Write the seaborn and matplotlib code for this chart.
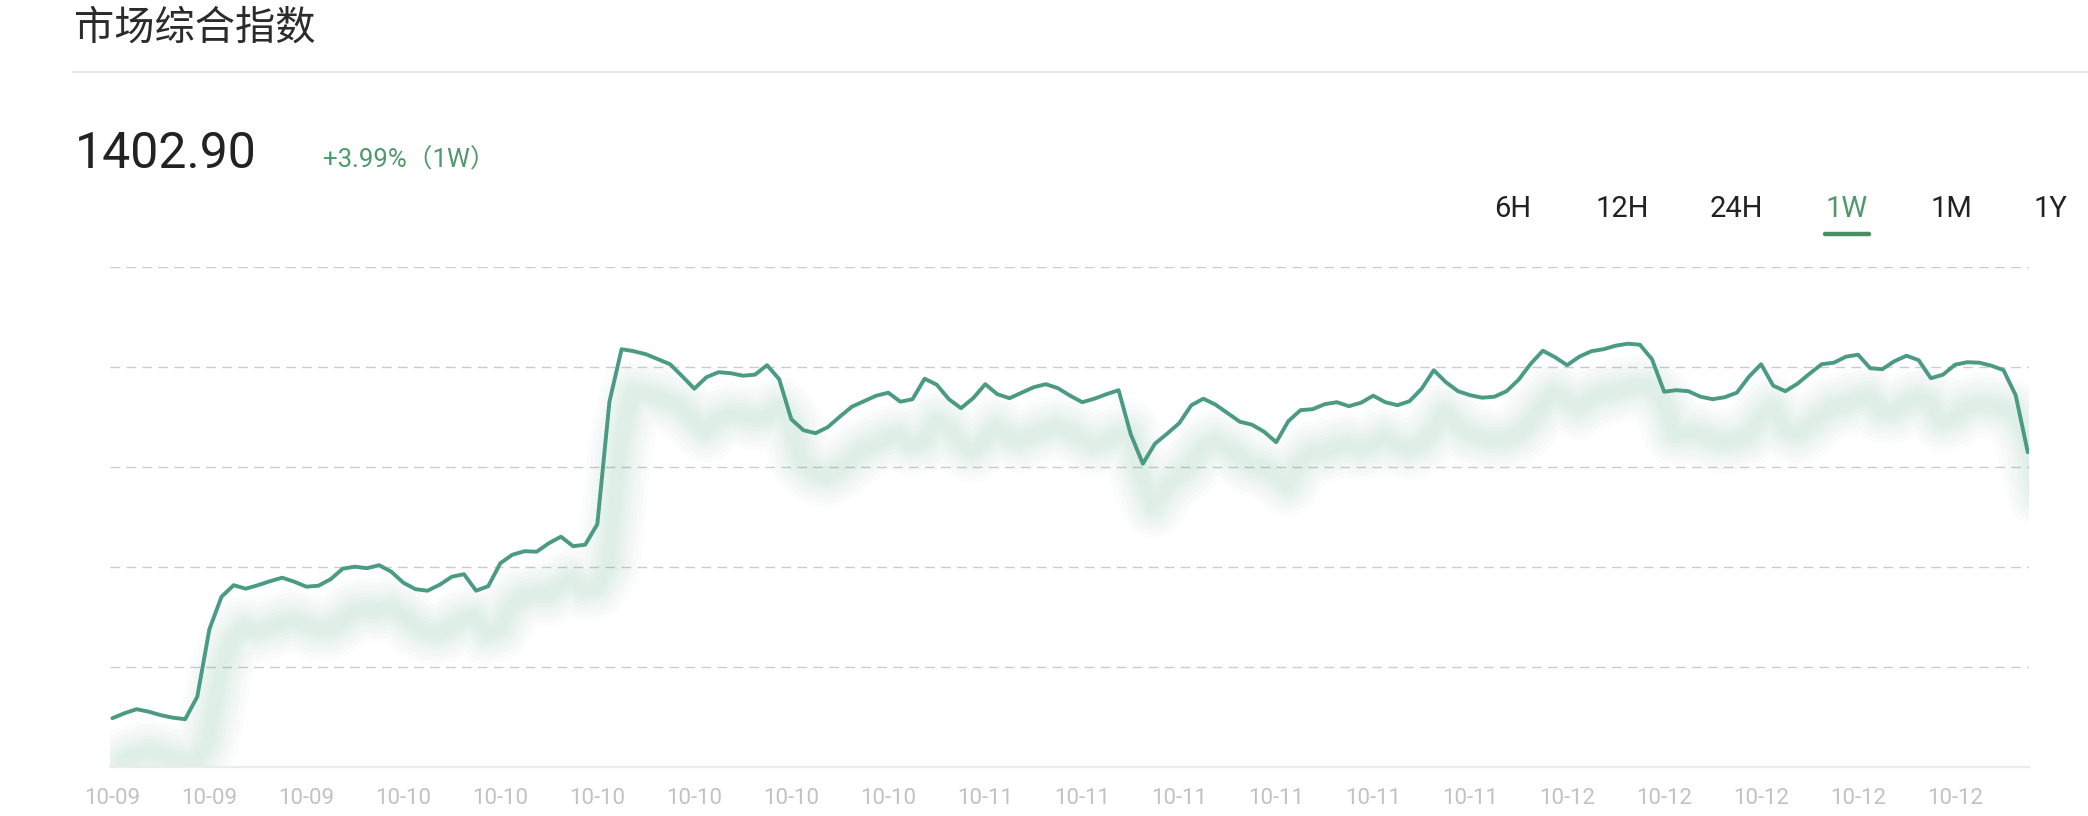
import numpy as np
import pandas as pd
import matplotlib
matplotlib.use("Agg")
import matplotlib.pyplot as plt
import seaborn as sns

# index values (one point per time step)
index_values = [
    1349.7, 1350.7, 1351.5, 1351.0, 1350.3, 1349.8, 1349.5, 1354.0, 1367.5, 1374.0,
    1376.3, 1375.6, 1376.3, 1377.1, 1377.8, 1377.0, 1376.0, 1376.2, 1377.5, 1379.6,
    1380.0, 1379.7, 1380.3, 1379.0, 1376.8, 1375.5, 1375.2, 1376.4, 1378.0, 1378.5,
    1375.2, 1376.1, 1380.7, 1382.4, 1383.1, 1383.0, 1384.7, 1386.0, 1384.1, 1384.4,
    1388.5, 1413.0, 1423.5, 1423.1, 1422.5, 1421.5, 1420.5, 1418.1, 1415.6, 1417.9,
    1418.9, 1418.7, 1418.2, 1418.4, 1420.3, 1417.5, 1409.5, 1407.3, 1406.7, 1407.9,
    1410.0, 1412.0, 1413.1, 1414.2, 1414.8, 1413.0, 1413.5, 1417.6, 1416.4, 1413.5,
    1411.7, 1413.7, 1416.5, 1414.5, 1413.7, 1414.8, 1415.9, 1416.5, 1415.7, 1414.2,
    1412.9, 1413.6, 1414.5, 1415.3, 1406.5, 1400.6, 1404.6, 1406.6, 1408.7, 1412.3,
    1413.6, 1412.4, 1410.7, 1409.0, 1408.4, 1407.0, 1404.9, 1409.1, 1411.3, 1411.5,
    1412.5, 1412.9, 1412.1, 1412.8, 1414.2, 1412.9, 1412.3, 1413.1, 1415.6, 1419.3,
    1416.9, 1415.1, 1414.3, 1413.8, 1414.0, 1415.1, 1417.4, 1420.6, 1423.2, 1421.9,
    1420.3, 1422.0, 1423.1, 1423.5, 1424.2, 1424.6, 1424.4, 1421.5, 1415.0, 1415.3,
    1415.1, 1414.0, 1413.5, 1413.9, 1414.8, 1418.0, 1420.5, 1416.2, 1415.1, 1416.6,
    1418.6, 1420.5, 1420.8, 1422.0, 1422.4, 1419.7, 1419.5, 1421.1, 1422.2, 1421.3,
    1417.7, 1418.4, 1420.4, 1420.9, 1420.8, 1420.2, 1419.3, 1414.3, 1402.9,
]
tick_labels = ["10-09"] * 3 + ["10-10"] * 6 + ["10-11"] * 6 + ["10-12"] * 5
tick_every = 8
range_tabs = ["6H", "12H", "24H", "1W", "1M", "1Y"]
active_tab = "1W"
title = "市场综合指数"
last_price = "1402.90"
change_text = "+3.99%（1W）"

df = pd.DataFrame({"t": np.arange(len(index_values)), "value": index_values})

sns.set_theme(style="white")
plt.rcParams["font.family"] = ["Roboto", "Noto Sans CJK SC", "DejaVu Sans"]

W, H = 2088, 816
fig = plt.figure(figsize=(W / 100, H / 100), dpi=100)
fig.patch.set_facecolor("white")

def fx(px):
    return px / W

def fy(py):
    return 1 - py / H

line_color = "#4b9a84"
green_text = "#4f9a6b"

# header
fig.text(fx(74), fy(40), title, fontsize=29, color="#2b2b2b",
         family=["Noto Sans CJK SC", "DejaVu Sans"], va="baseline")
fig.add_artist(plt.Line2D([fx(73), 1.0], [fy(72), fy(72)], color="#e6e6e6", lw=1.5))
fig.text(fx(75), fy(168), last_price, fontsize=36, color="#222222", va="baseline")
fig.text(fx(323), fy(168), change_text, fontsize=18.5, color=green_text, va="baseline")

tab_x = [1513, 1622, 1736, 1847, 1951, 2050]
for name, x in zip(range_tabs, tab_x):
    c = green_text if name == active_tab else "#222222"
    fig.text(fx(x), fy(216.7), name, fontsize=21, color=c, ha="center", va="baseline")
    if name == active_tab:
        fig.add_artist(plt.Line2D([fx(x - 22), fx(x + 22)], [fy(233.7), fy(233.7)],
                                  color="#4a8f62", lw=3.2))

# chart area
ax = fig.add_axes([fx(110), 49.3 / H, (2029 - 110) / W, 500 / H])
ax.set_xlim(-0.2, 158.1)
ax.set_ylim(1340, 1440)

# soft blurred glow below the line
shadow = df.assign(t=df["t"] + 0.9, value=df["value"] - 8.5)
for lw in [46, 40, 34, 28, 23, 18, 13, 8]:
    sns.lineplot(data=shadow, x="t", y="value", ax=ax, color="#5aa892",
                 lw=lw, alpha=0.022, solid_capstyle="round",
                 solid_joinstyle="round", legend=False)

sns.lineplot(data=df, x="t", y="value", ax=ax, color=line_color, lw=2.8,
             solid_capstyle="round", solid_joinstyle="round")

ax.set_yticks([1360, 1380, 1400, 1420, 1440])
ax.yaxis.grid(True, color="#cccccc", lw=1.0, linestyle=(0, (7, 4.5)))
ax.xaxis.grid(False)
ax.set_yticklabels([])
ax.tick_params(axis="y", length=0)

ticks = list(range(0, len(index_values), tick_every))[:len(tick_labels)]
ax.set_xticks(ticks)
ax.set_xticklabels(tick_labels, fontsize=16, color="#c2c2c2")
ax.tick_params(axis="x", length=0, pad=15)
ax.set_xlabel("")
ax.set_ylabel("")

for side in ["top", "left", "right"]:
    ax.spines[side].set_visible(False)
ax.spines["bottom"].set_color("#ececec")
ax.spines["bottom"].set_linewidth(1.6)

fig.savefig("out.png", dpi=100, facecolor="white")
